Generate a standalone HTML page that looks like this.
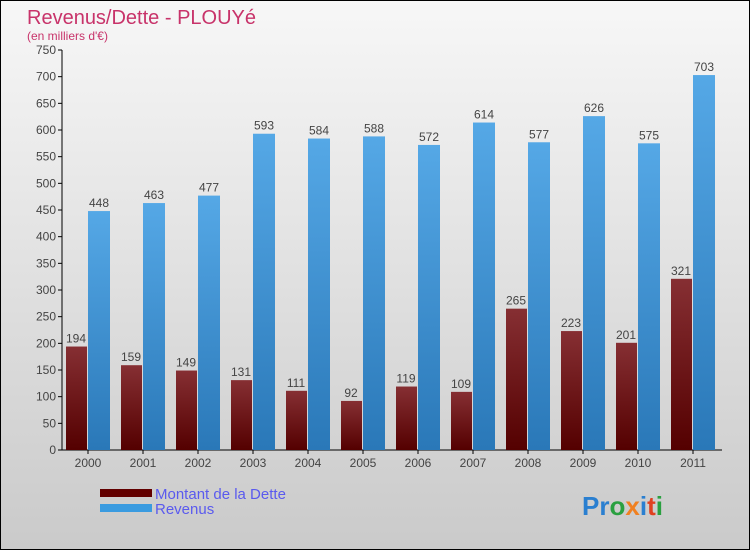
<!DOCTYPE html>
<html><head><meta charset="utf-8"><style>
html,body{margin:0;padding:0}
body{width:750px;height:550px;overflow:hidden;font-family:"Liberation Sans",sans-serif}
</style></head><body>
<svg id="chart" width="750" height="550" xmlns="http://www.w3.org/2000/svg">
<defs>
<linearGradient id="bg" x1="0" y1="0" x2="0" y2="1"><stop offset="0" stop-color="#f7f7f7"/><stop offset="1" stop-color="#cacaca"/></linearGradient>
<linearGradient id="gd" x1="0" y1="0" x2="0" y2="1"><stop offset="0" stop-color="#862f33"/><stop offset="1" stop-color="#540000"/></linearGradient>
<linearGradient id="gr" x1="0" y1="0" x2="0" y2="1"><stop offset="0" stop-color="#55a8e6"/><stop offset="1" stop-color="#2a78b8"/></linearGradient>
</defs>
<rect x="0.5" y="0.5" width="749" height="549" fill="url(#bg)" stroke="#000"/>
<text x="27" y="24" font-size="20" fill="#c8336a">Revenus/Dette - PLOUYé</text>
<text x="27" y="40" font-size="12" fill="#c8336a">(en milliers d'€)</text>
<g id="axes"></g>
<g id="bars"></g>
<g>
<rect x="100" y="489" width="52" height="8" fill="#620000"/>
<text x="155" y="499" font-size="15" fill="#5a5aee">Montant de la Dette</text>
<rect x="100" y="504" width="52" height="8" fill="#3a9be0"/>
<text x="155" y="514" font-size="15" fill="#5a5aee">Revenus</text>
</g>
<text x="582" y="515" font-size="26" font-weight="bold"><tspan fill="#2a7fd0">Pr</tspan><tspan fill="#2aa040">o</tspan><tspan fill="#f08020">x</tspan><tspan fill="#2a7fd0">i</tspan><tspan fill="#e04020">t</tspan><tspan fill="#2aa040">i</tspan></text>
</svg>
<script>
const years=["2000","2001","2002","2003","2004","2005","2006","2007","2008","2009","2010","2011"];
const debt=[194,159,149,131,111,92,119,109,265,223,201,321];
const revenue=[448,463,477,593,584,588,572,614,577,626,575,703];
const yTicks=[0,50,100,150,200,250,300,350,400,450,500,550,600,650,700,750];
const NS="http://www.w3.org/2000/svg";
const x0=62,step=55,yBase=450,yMax=750,plotH=400;
const y=v=>yBase-v/yMax*plotH;
function mk(tag,attrs,parent,txt){const e=document.createElementNS(NS,tag);for(const k in attrs)e.setAttribute(k,attrs[k]);if(txt!==undefined)e.textContent=txt;parent.appendChild(e);return e;}
const ax=document.getElementById('axes'),bg=document.getElementById('bars');
yTicks.forEach(t=>{
 const l=mk('line',{x1:58,x2:62,y1:y(t),y2:y(t),stroke:'#000'},ax);
 
 
 const tx=mk('text',{x:56,y:y(t)+4,'font-size':12,'text-anchor':'end',fill:'#444'},ax,t);
 
 
});
years.forEach((yr,i)=>{
 const gx=x0+i*step;
 const d=mk('rect',{x:gx+4,y:y(debt[i]),width:21,height:yBase-y(debt[i]),fill:'url(#gd)'},bg);
 
 
 const r=mk('rect',{x:gx+26,y:y(revenue[i]),width:22,height:yBase-y(revenue[i]),fill:'url(#gr)'},bg);
 
 
 const dl=mk('text',{x:gx+14,y:y(debt[i])-4,'font-size':12,'text-anchor':'middle',fill:'#444'},bg,debt[i]);
 
 
 const rl=mk('text',{x:gx+37,y:y(revenue[i])-4,'font-size':12,'text-anchor':'middle',fill:'#444'},bg,revenue[i]);
 
 
 const tk=mk('line',{x1:gx+26,x2:gx+26,y1:450,y2:454,stroke:'#000'},ax);
 
 
 const xl=mk('text',{x:gx+26,y:467,'font-size':12,'text-anchor':'middle',fill:'#444'},ax,yr);
 
 
});
const ya=mk('line',{x1:62,x2:62,y1:50,y2:450,stroke:'#000'},ax);


const xa=mk('line',{x1:62,x2:722,y1:450,y2:450,stroke:'#000'},ax);


</script>
</body></html>
